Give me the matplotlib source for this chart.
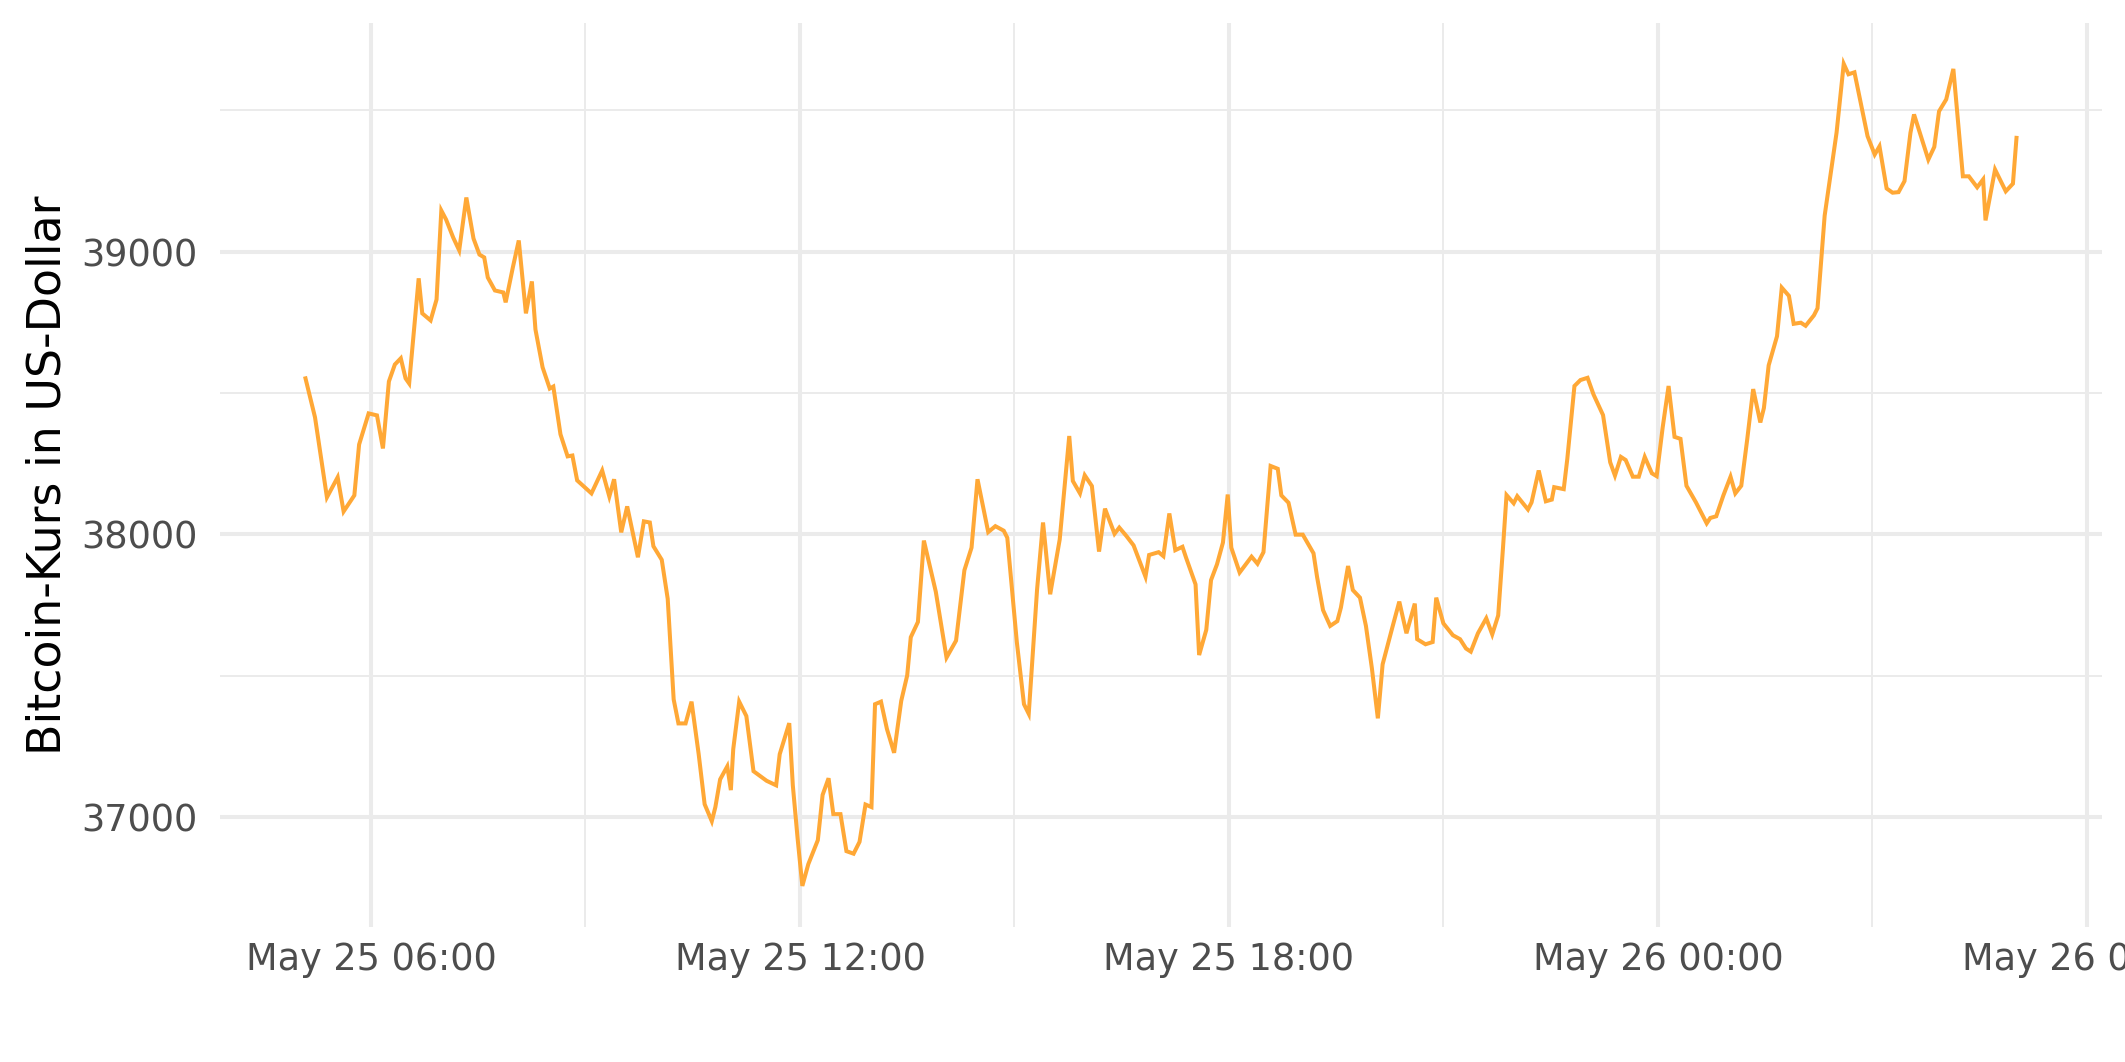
import pandas as pd
import matplotlib
matplotlib.use('Agg')
import matplotlib.pyplot as plt
import matplotlib.dates as mdates

# minutes after 2021-05-25 05:00 and Bitcoin price in USD
start = pd.Timestamp('2021-05-25 05:00')
minutes = [5, 13, 23, 32, 37, 46, 50, 58, 65, 70,
           75, 80, 85, 89, 92, 100, 103, 110, 115, 119,
           123, 129, 134, 140, 146, 151, 155, 158, 164, 171,
           173, 179, 184, 190, 195, 198, 204, 210, 213, 219,
           225, 229, 233, 245, 254, 260, 264, 270, 275, 284,
           289, 294, 297, 304, 309, 314, 318, 324, 329, 335,
           340, 346, 349, 353, 359, 362, 364, 369, 375, 381,
           392, 400, 403, 411, 414, 418, 422, 427, 435, 439,
           444, 448, 454, 459, 465, 470, 475, 480, 483, 488,
           493, 499, 505, 510, 513, 519, 524, 534, 543, 551,
           558, 564, 569, 578, 584, 591, 594, 602, 608, 612,
           619, 624, 630, 638, 646, 649, 655, 659, 665, 671,
           676, 684, 688, 694, 700, 710, 713, 721, 725, 730,
           735, 741, 744, 752, 755, 761, 765, 770, 775, 779,
           782, 789, 799, 804, 809, 815, 821, 824, 830, 836,
           842, 851, 854, 859, 865, 871, 874, 880, 884, 890,
           895, 900, 905, 909, 917, 923, 929, 936, 938, 945,
           951, 954, 960, 968, 974, 979, 983, 989, 996, 1001,
           1006, 1010, 1013, 1019, 1022, 1031, 1034, 1040, 1046, 1051,
           1053, 1061, 1064, 1070, 1075, 1081, 1086, 1094, 1100, 1104,
           1109, 1113, 1119, 1124, 1129, 1135, 1139, 1144, 1149, 1154,
           1159, 1164, 1172, 1181, 1184, 1189, 1195, 1201, 1205, 1210,
           1215, 1220, 1226, 1229, 1233, 1240, 1244, 1250, 1254, 1260,
           1264, 1271, 1274, 1280, 1290, 1296, 1300, 1305, 1316, 1322,
           1326, 1332, 1337, 1342, 1347, 1352, 1355, 1367, 1372, 1376,
           1382, 1388, 1396, 1401, 1408, 1413, 1415, 1423, 1432, 1438, 1441]
prices = [38552, 38414, 38131, 38202, 38081, 38138, 38318, 38428, 38421, 38304,
          38541, 38601, 38623, 38552, 38534, 38906, 38782, 38757, 38831, 39146,
          39114, 39050, 39005, 39192, 39047, 38990, 38980, 38909, 38863, 38856,
          38821, 38944, 39040, 38782, 38895, 38725, 38591, 38516, 38523, 38354,
          38276, 38279, 38191, 38145, 38226, 38134, 38195, 38007, 38099, 37919,
          38046, 38042, 37958, 37910, 37772, 37416, 37331, 37331, 37408, 37222,
          37045, 36985, 37035, 37133, 37179, 37095, 37240, 37408, 37357, 37162,
          37128, 37112, 37222, 37332, 37112, 36925, 36756, 36833, 36918, 37078,
          37137, 37010, 37010, 36879, 36870, 36912, 37044, 37035, 37399, 37408,
          37311, 37227, 37411, 37501, 37636, 37690, 37978, 37797, 37564, 37624,
          37873, 37953, 38195, 38008, 38029, 38013, 37988, 37619, 37399, 37365,
          37805, 38042, 37788, 37982, 38348, 38189, 38145, 38209, 38171, 37939,
          38091, 38002, 38024, 37994, 37961, 37850, 37927, 37937, 37923, 38074,
          37944, 37956, 37918, 37823, 37573, 37662, 37838, 37894, 37971, 38141,
          37953, 37865, 37921, 37896, 37937, 38242, 38232, 38138, 38112, 37999,
          37999, 37933, 37849, 37732, 37676, 37693, 37741, 37888, 37803, 37776,
          37676, 37526, 37349, 37540, 37668, 37762, 37650, 37755, 37629, 37611,
          37619, 37776, 37685, 37643, 37629, 37596, 37585, 37650, 37703, 37646,
          37713, 37951, 38139, 38110, 38135, 38088, 38113, 38226, 38117, 38123,
          38167, 38160, 38267, 38525, 38546, 38554, 38495, 38422, 38255, 38208,
          38274, 38263, 38204, 38204, 38274, 38216, 38206, 38377, 38525, 38345,
          38338, 38172, 38113, 38039, 38058, 38064, 38138, 38204, 38145, 38172,
          38336, 38514, 38396, 38447, 38598, 38701, 38873, 38844, 38745, 38749,
          38738, 38775, 38800, 39128, 39422, 39665, 39628, 39635, 39409, 39344,
          39373, 39224, 39209, 39211, 39250, 39421, 39486, 39326, 39371, 39497,
          39539, 39647, 39267, 39267, 39228, 39256, 39111, 39291, 39214, 39241, 39403]

times = start + pd.to_timedelta(minutes, unit='min')

plt.rcParams['font.family'] = ['DejaVu Sans']

fig = plt.figure(figsize=(10.625, 5.31), dpi=200)
ax = fig.add_axes([0.1035, 0.1271, 0.9892 - 0.1035, 0.9786 - 0.1271])

ax.plot(times, prices, color='#FFA836', lw=1.45, solid_joinstyle='miter', zorder=3)
ax.margins(x=0.05, y=0.05)

ax.xaxis.set_major_locator(mdates.HourLocator(byhour=[0, 6, 12, 18]))
ax.xaxis.set_minor_locator(mdates.HourLocator(byhour=[3, 9, 15, 21]))
ax.xaxis.set_major_formatter(mdates.DateFormatter('%b %d %H:%M'))
ax.set_yticks([37000, 38000, 39000])
ax.set_yticks([37500, 38500, 39500], minor=True)

ax.grid(which='major', color='#EBEBEB', lw=1.45)
ax.grid(which='minor', color='#EBEBEB', lw=0.72)
ax.set_axisbelow(True)
for s in ax.spines.values():
    s.set_visible(False)

ax.tick_params(which='both', length=0)
ax.tick_params(axis='x', labelsize=13.2, labelcolor='#4D4D4D', pad=5)
ax.tick_params(axis='y', labelsize=13.2, labelcolor='#4D4D4D', pad=8)
ax.set_ylabel('Bitcoin-Kurs in US-Dollar', fontsize=16.5, color='black', labelpad=4)

fig.savefig('out.png', dpi=200)
